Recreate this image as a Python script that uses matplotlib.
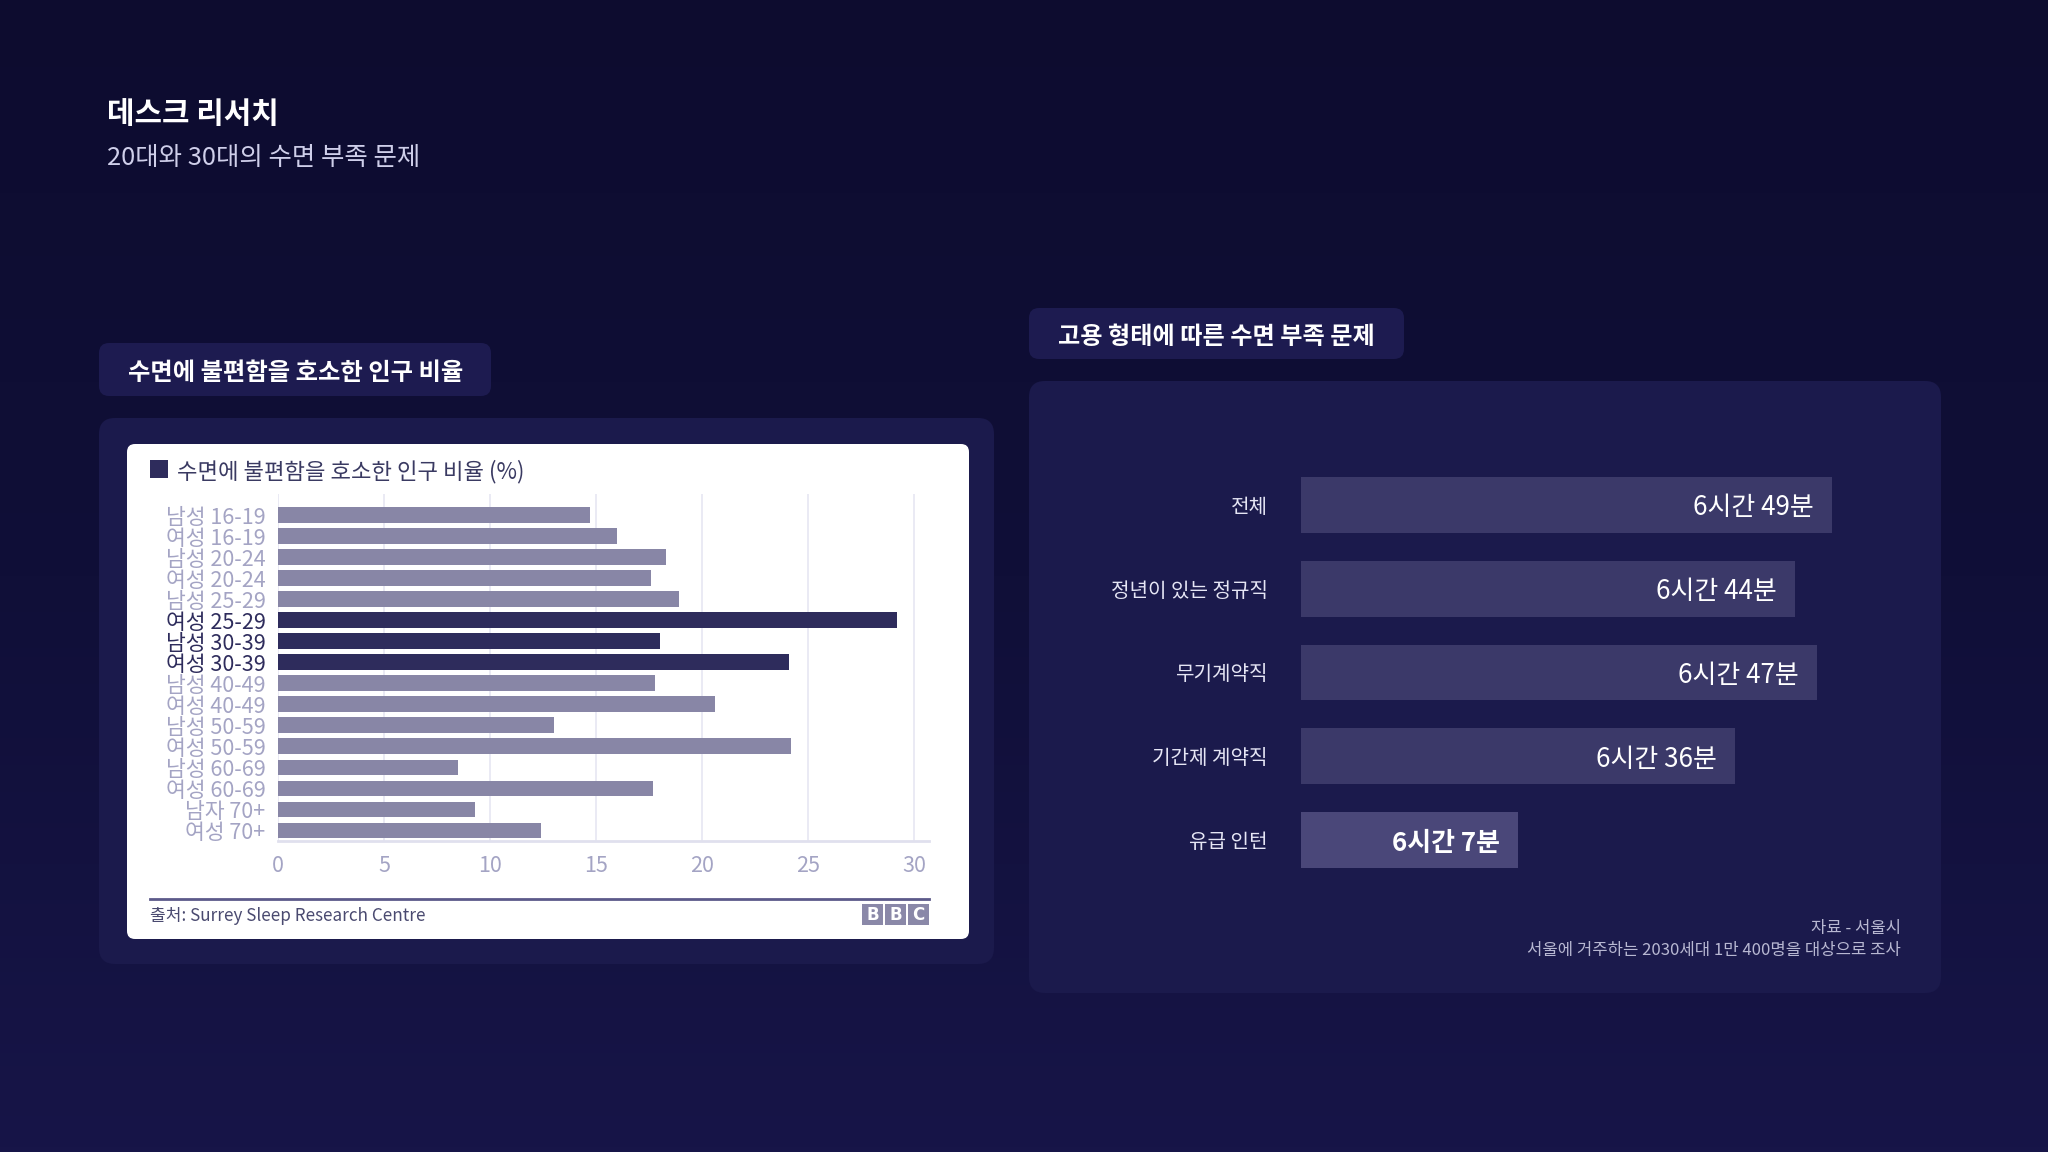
#Sleep desk research slide - two bar charts on a dark card layout

import numpy as np
import matplotlib
matplotlib.use("Agg")
import matplotlib.pyplot as plt
from matplotlib.patches import FancyBboxPatch, Rectangle
from matplotlib.colors import LinearSegmentedColormap

plt.rcParams['font.family'] = ['Noto Sans CJK KR', 'DejaVu Sans']

# ---- data ----
# left chart (BBC image): share of people with sleep complaints (%)
groups = ["남성 16-19", "여성 16-19", "남성 20-24", "여성 20-24", "남성 25-29",
          "여성 25-29", "남성 30-39", "여성 30-39", "남성 40-49", "여성 40-49",
          "남성 50-59", "여성 50-59", "남성 60-69", "여성 60-69", "남자 70+", "여성 70+"]
pct = [14.7, 16.0, 18.3, 17.6, 18.9, 29.2, 18.0, 24.1, 17.8, 20.6, 13.0, 24.2, 8.5, 17.7, 9.3, 12.4]
highlight = ["여성 25-29", "남성 30-39", "여성 30-39"]
pct_ticks = [0, 5, 10, 15, 20, 25, 30]

# right chart: sleep time by employment type (minutes)
jobs = ["전체", "정년이 있는 정규직", "무기계약직", "기간제 계약직", "유급 인턴"]
sleep_min = [409, 404, 407, 396, 367]

W, H = 2048, 1152
fig = plt.figure(figsize=(W / 100, H / 100), dpi=100)

def px_axes(x0, y0, x1, y1, **kw):
    return fig.add_axes([x0 / W, 1 - y1 / H, (x1 - x0) / W, (y1 - y0) / H], **kw)

# ---- background ----
bg = px_axes(0, 0, W, H)
bg.set_xlim(0, W)
bg.set_ylim(H, 0)
bg.axis('off')
cmap = LinearSegmentedColormap.from_list("bg", ["#0d0c2f", "#100f38", "#171548"])
grad = np.linspace(0, 1, 256).reshape(-1, 1)
bg.imshow(grad, cmap=cmap, extent=[0, W, H, 0], aspect='auto', zorder=0)

def card(x0, y0, x1, y1, color, r=14, z=1):
    bg.add_patch(FancyBboxPatch((x0 + r, y0 + r), (x1 - x0) - 2 * r, (y1 - y0) - 2 * r,
                                boxstyle="round,pad=%d" % r, fc=color, ec='none', zorder=z))

card(99, 343, 491, 396, "#1d1b50", r=10)
card(99, 418, 994, 964, "#1b1a4c", r=16)
card(127, 444, 969, 939, "white", r=8, z=2)
card(1029, 308, 1404, 359, "#1d1b50", r=10)
card(1029, 381, 1941, 993, "#1b1a4c", r=16)

bg.text(107, 111, "데스크 리서치", color="white", fontsize=21.5, fontweight='bold', va='center_baseline')
bg.text(107, 155, "20대와 30대의 수면 부족 문제", color="#cfcfea", fontsize=18.3, va='center_baseline')
bg.text(128, 371, "수면에 불편함을 호소한 인구 비율", color="white", fontsize=17.5, fontweight='bold',
        va='center_baseline')
bg.text(1058, 335, "고용 형태에 따른 수면 부족 문제", color="white", fontsize=17.4, fontweight='bold',
        va='center_baseline')

# legend + title inside the white image
bg.add_patch(Rectangle((150, 460), 18, 18, fc="#2e2c5c", ec='none', zorder=3))
bg.text(177, 469, "수면에 불편함을 호소한 인구 비율 (%)", color="#3a3a62", fontsize=16,
        va='center_baseline', zorder=3)

# footer line, source and BBC blocks
bg.plot([150, 929], [899, 899], color="#5c5a8a", lw=2, zorder=3)
bg.text(150, 914, "출처: Surrey Sleep Research Centre", color="#4a4a70", fontsize=12.3,
        va='center_baseline', zorder=3)
for k, ch in enumerate("BBC"):
    bg.add_patch(Rectangle((862 + k * 23, 904), 21, 21, fc="#8a88a8", ec='none', zorder=3))
    bg.text(872.5 + k * 23, 915, ch, color="white", fontsize=12, fontweight='bold',
            ha='center', va='center', family='DejaVu Sans', zorder=4)

# ---- left chart ----
ax1 = px_axes(278, 494, 929, 841)
ax1.set_zorder(3)
y1 = np.arange(len(groups))
colors1 = ["#2e2c5c" if g in highlight else "#8886a6" for g in groups]
ax1.barh(y1, pct, height=0.72, color=colors1, zorder=2)
ax1.set_xlim(0, 30.7)
ax1.set_ylim(15.52, -1)
ax1.set_facecolor('none')
ax1.set_xticks(pct_ticks)
ax1.set_xticklabels([str(t) for t in pct_ticks], fontsize=15.5, color="#a4a4c4")
ax1.set_yticks(y1)
ax1.set_yticklabels(groups, fontsize=15.5)
for lab, g in zip(ax1.get_yticklabels(), groups):
    lab.set_color("#2e2c5c" if g in highlight else "#a4a4c4")
ax1.tick_params(axis='y', length=0, pad=9)
ax1.tick_params(axis='x', length=0, pad=10)
ax1.grid(axis='x', color="#e6e6f2", lw=1.2, zorder=0)
for s in ['top', 'right', 'left']:
    ax1.spines[s].set_visible(False)
ax1.spines['bottom'].set_color("#e0e0ee")
ax1.spines['bottom'].set_linewidth(2)

# ---- right chart ----
ax2 = px_axes(1301, 463, 1901, 882)
ax2.set_zorder(3)
y2 = np.arange(len(jobs))
colors2 = ["#3b3969"] * (len(jobs) - 1) + ["#4a4779"]
ax2.barh(y2, sleep_min, height=0.667, color=colors2)
ax2.set_xlim(338, 418.2)
ax2.set_ylim(4.5, -0.5)
ax2.set_facecolor('none')
ax2.set_xticks([])
ax2.set_yticks(y2)
ax2.set_yticklabels(jobs, fontsize=14.5, color="#e6e6f5")
ax2.tick_params(axis='y', length=0, pad=24)
for s in ax2.spines.values():
    s.set_visible(False)
for i, m in enumerate(sleep_min):
    last = i == len(jobs) - 1
    ax2.annotate("%d시간 %d분" % (m // 60, m % 60), xy=(m, i), xytext=(-13, 0),
                 textcoords='offset points', ha='right', va='center_baseline', color="white",
                 fontsize=18.7, fontweight='bold' if last else 'normal')

bg.text(1901, 929, "자료 - 서울시", color="#b8b8d2", fontsize=12, ha='right', va='center', zorder=3)
bg.text(1901, 950, "서울에 거주하는 2030세대 1만 400명을 대상으로 조사", color="#b8b8d2",
        fontsize=12, ha='right', va='center', zorder=3)

fig.savefig("out.png", dpi=100, facecolor=fig.get_facecolor())
